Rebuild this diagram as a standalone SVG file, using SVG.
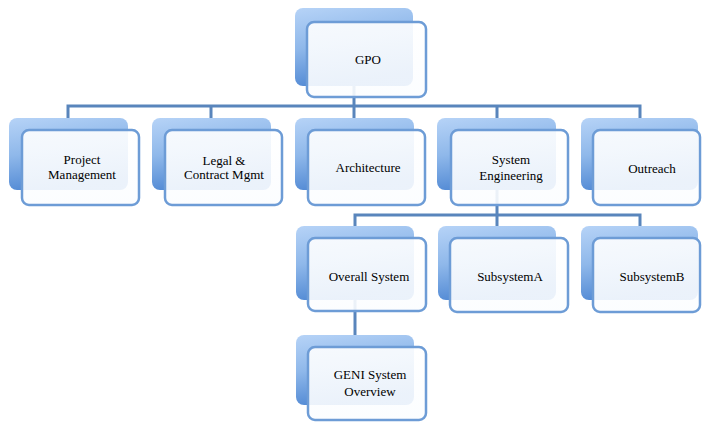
<svg xmlns="http://www.w3.org/2000/svg" width="702" height="422" viewBox="0 0 702 422">
<defs>
<linearGradient id="backGrad" x1="0" y1="0" x2="0.25" y2="1">
<stop offset="0" stop-color="#b6d3f7"/>
<stop offset="0.5" stop-color="#8fb8ea"/>
<stop offset="1" stop-color="#5189d4"/>
</linearGradient>
<linearGradient id="frontGrad" x1="0" y1="0" x2="0" y2="1">
<stop offset="0" stop-color="#ffffff" stop-opacity="0.9"/>
<stop offset="1" stop-color="#fbfdff" stop-opacity="0.9"/>
</linearGradient>
</defs>
<style>
.back{fill:url(#backGrad);}
.front{fill:url(#frontGrad);stroke:#6d9cd6;stroke-width:2.5;}
.conn{fill:none;stroke:#5985bc;stroke-width:3;}
text{font-family:"Liberation Serif","Times New Roman",serif;font-size:13px;fill:#000;text-anchor:middle;}
</style>
<rect width="702" height="422" fill="#ffffff"/>
<g id="connectors">
<path class="conn" d="M354 84 V106 M68 118 V106 H640 V118 M211 106 V118 M354 106 V118 M497 106 V118"/>
<path class="conn" d="M497 190 V215 M355 226 V215 H640 V226 M497 215 V226"/>
<path class="conn" d="M355 298 V335"/>
</g>
<g id="gpo">
<rect class="back" x="295" y="8" width="118" height="78" rx="8"/>
<rect class="front" x="307" y="22" width="119" height="75" rx="7"/>
<text x="368" y="64">GPO</text>
</g>
<g id="project-management">
<rect class="back" x="9" y="118" width="119" height="72" rx="8"/>
<rect class="front" x="22" y="130" width="117" height="75" rx="7"/>
<text x="82" y="164">Project</text>
<text x="82" y="179">Management</text>
</g>
<g id="legal-contract">
<rect class="back" x="152" y="118" width="119" height="72" rx="8"/>
<rect class="front" x="165" y="130" width="117" height="75" rx="7"/>
<text x="224" y="165">Legal &amp;</text>
<text x="224" y="179">Contract Mgmt</text>
</g>
<g id="architecture">
<rect class="back" x="295" y="118" width="119" height="72" rx="8"/>
<rect class="front" x="308" y="130" width="117" height="75" rx="7"/>
<text x="368" y="172">Architecture</text>
</g>
<g id="system-engineering">
<rect class="back" x="437" y="118" width="119" height="72" rx="8"/>
<rect class="front" x="451" y="130" width="117" height="75" rx="7"/>
<text x="511" y="164">System</text>
<text x="511" y="180">Engineering</text>
</g>
<g id="outreach">
<rect class="back" x="581" y="118" width="117" height="72" rx="8"/>
<rect class="front" x="593" y="130" width="107" height="75" rx="7"/>
<text x="652" y="173">Outreach</text>
</g>
<g id="overall-system">
<rect class="back" x="296" y="226" width="118" height="74" rx="8"/>
<rect class="front" x="308" y="238" width="118" height="73" rx="7"/>
<text x="369" y="281">Overall System</text>
</g>
<g id="subsystem-a">
<rect class="back" x="438" y="226" width="118" height="74" rx="8"/>
<rect class="front" x="450" y="238" width="118" height="74" rx="7"/>
<text x="510" y="281">SubsystemA</text>
</g>
<g id="subsystem-b">
<rect class="back" x="581" y="226" width="117" height="74" rx="8"/>
<rect class="front" x="593" y="238" width="107" height="74" rx="7"/>
<text x="652" y="281">SubsystemB</text>
</g>
<g id="geni-system-overview">
<rect class="back" x="296" y="335" width="118" height="70" rx="8"/>
<rect class="front" x="308" y="347" width="118" height="73" rx="7"/>
<text x="370" y="379">GENI System</text>
<text x="370" y="396">Overview</text>
</g>
</svg>
